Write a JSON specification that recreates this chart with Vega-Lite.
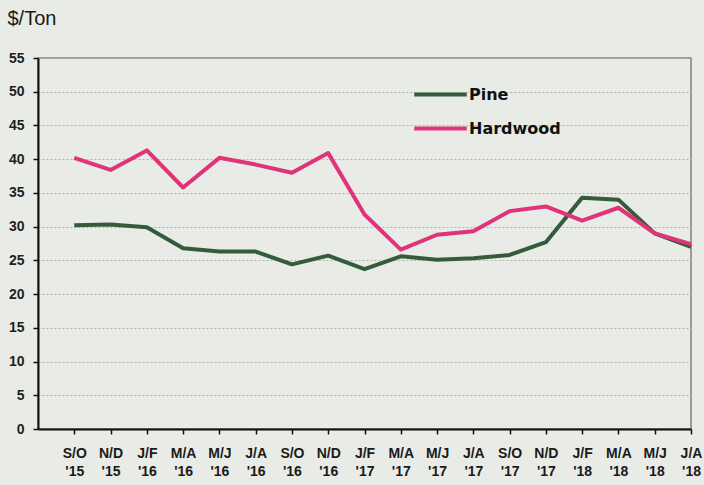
{
  "$schema": "https://vega.github.io/schema/vega-lite/v6.json",
  "width": 653,
  "height": 371,
  "autosize": "none",
  "padding": {"left": 38, "top": 58, "right": 13, "bottom": 56},
  "background": "#e8ebe6",
  "config": {
    "font": "Liberation Sans",
    "view": {"stroke": "#8a7c7f", "strokeWidth": 1.5}
  },
  "data": {
    "values": [
      {"i": 1, "period": "S/O '15", "series": "Pine", "price": 30.2},
      {"i": 2, "period": "N/D '15", "series": "Pine", "price": 30.3},
      {"i": 3, "period": "J/F '16", "series": "Pine", "price": 29.9},
      {"i": 4, "period": "M/A '16", "series": "Pine", "price": 26.8},
      {"i": 5, "period": "M/J '16", "series": "Pine", "price": 26.3},
      {"i": 6, "period": "J/A '16", "series": "Pine", "price": 26.3},
      {"i": 7, "period": "S/O '16", "series": "Pine", "price": 24.4},
      {"i": 8, "period": "N/D '16", "series": "Pine", "price": 25.7},
      {"i": 9, "period": "J/F '17", "series": "Pine", "price": 23.7},
      {"i": 10, "period": "M/A '17", "series": "Pine", "price": 25.6},
      {"i": 11, "period": "M/J '17", "series": "Pine", "price": 25.1},
      {"i": 12, "period": "J/A '17", "series": "Pine", "price": 25.3},
      {"i": 13, "period": "S/O '17", "series": "Pine", "price": 25.8},
      {"i": 14, "period": "N/D '17", "series": "Pine", "price": 27.7},
      {"i": 15, "period": "J/F '18", "series": "Pine", "price": 34.3},
      {"i": 16, "period": "M/A '18", "series": "Pine", "price": 34.0},
      {"i": 17, "period": "M/J '18", "series": "Pine", "price": 29.0},
      {"i": 18, "period": "J/A '18", "series": "Pine", "price": 27.0},
      {"i": 1, "period": "S/O '15", "series": "Hardwood", "price": 40.2},
      {"i": 2, "period": "N/D '15", "series": "Hardwood", "price": 38.4},
      {"i": 3, "period": "J/F '16", "series": "Hardwood", "price": 41.3},
      {"i": 4, "period": "M/A '16", "series": "Hardwood", "price": 35.8},
      {"i": 5, "period": "M/J '16", "series": "Hardwood", "price": 40.2},
      {"i": 6, "period": "J/A '16", "series": "Hardwood", "price": 39.2},
      {"i": 7, "period": "S/O '16", "series": "Hardwood", "price": 38.0},
      {"i": 8, "period": "N/D '16", "series": "Hardwood", "price": 40.9},
      {"i": 9, "period": "J/F '17", "series": "Hardwood", "price": 31.8},
      {"i": 10, "period": "M/A '17", "series": "Hardwood", "price": 26.6},
      {"i": 11, "period": "M/J '17", "series": "Hardwood", "price": 28.8},
      {"i": 12, "period": "J/A '17", "series": "Hardwood", "price": 29.3},
      {"i": 13, "period": "S/O '17", "series": "Hardwood", "price": 32.3},
      {"i": 14, "period": "N/D '17", "series": "Hardwood", "price": 33.0},
      {"i": 15, "period": "J/F '18", "series": "Hardwood", "price": 30.9},
      {"i": 16, "period": "M/A '18", "series": "Hardwood", "price": 32.8},
      {"i": 17, "period": "M/J '18", "series": "Hardwood", "price": 29.0},
      {"i": 18, "period": "J/A '18", "series": "Hardwood", "price": 27.4}
    ]
  },
  "mark": {"type": "line", "strokeWidth": 4, "strokeJoin": "round"},
  "encoding": {
    "x": {
      "field": "i",
      "type": "quantitative",
      "scale": {"domain": [0, 18], "nice": false, "zero": false},
      "axis": {
        "title": null,
        "grid": false,
        "values": [1, 2, 3, 4, 5, 6, 7, 8, 9, 10, 11, 12, 13, 14, 15, 16, 17, 18],
        "labelExpr": "[['S/O',\"'15\"],['N/D',\"'15\"],['J/F',\"'16\"],['M/A',\"'16\"],['M/J',\"'16\"],['J/A',\"'16\"],['S/O',\"'16\"],['N/D',\"'16\"],['J/F',\"'17\"],['M/A',\"'17\"],['M/J',\"'17\"],['J/A',\"'17\"],['S/O',\"'17\"],['N/D',\"'17\"],['J/F',\"'18\"],['M/A',\"'18\"],['M/J',\"'18\"],['J/A',\"'18\"]][datum.value - 1]",
        "labelFontSize": 14,
        "labelFontWeight": "bold",
        "labelColor": "#1a1a1a",
        "labelLineHeight": 18,
        "labelBaseline": "top",
        "labelPadding": 12,
        "labelFlush": false,
        "labelOverlap": false,
        "domainColor": "#111111",
        "domainWidth": 2,
        "tickColor": "#111111",
        "tickWidth": 1.5,
        "tickSize": 5
      }
    },
    "y": {
      "field": "price",
      "type": "quantitative",
      "scale": {"domain": [0, 55], "nice": false},
      "axis": {
        "title": "$/Ton",
        "titleAngle": 0,
        "titleAlign": "left",
        "titleBaseline": "middle",
        "titleX": -31,
        "titleY": -40,
        "titleFontSize": 20,
        "titleFontWeight": "normal",
        "titleColor": "#1a1a1a",
        "values": [0, 5, 10, 15, 20, 25, 30, 35, 40, 45, 50, 55],
        "labelFontSize": 14,
        "labelFontWeight": "bold",
        "labelColor": "#1f1f1f",
        "labelPadding": 9,
        "domainColor": "#111111",
        "domainWidth": 2,
        "tickColor": "#111111",
        "tickWidth": 1.5,
        "tickSize": 5,
        "gridColor": "#b1b3af",
        "gridDash": [2, 2],
        "gridWidth": 1
      }
    },
    "color": {
      "field": "series",
      "type": "nominal",
      "scale": {"domain": ["Pine", "Hardwood"], "range": ["#345c3c", "#e0337a"]},
      "legend": {
        "title": null,
        "orient": "none",
        "legendX": 388,
        "legendY": 22,
        "padding": 0,
        "symbolType": "M-2.1,0H2.1",
        "symbolSize": 625,
        "symbolStrokeWidth": 4,
        "labelOffset": 14,
        "labelFont": "DejaVu Sans",
        "labelFontSize": 16,
        "labelFontWeight": "bold",
        "labelColor": "#111111",
        "rowPadding": 11
      }
    }
  }
}
